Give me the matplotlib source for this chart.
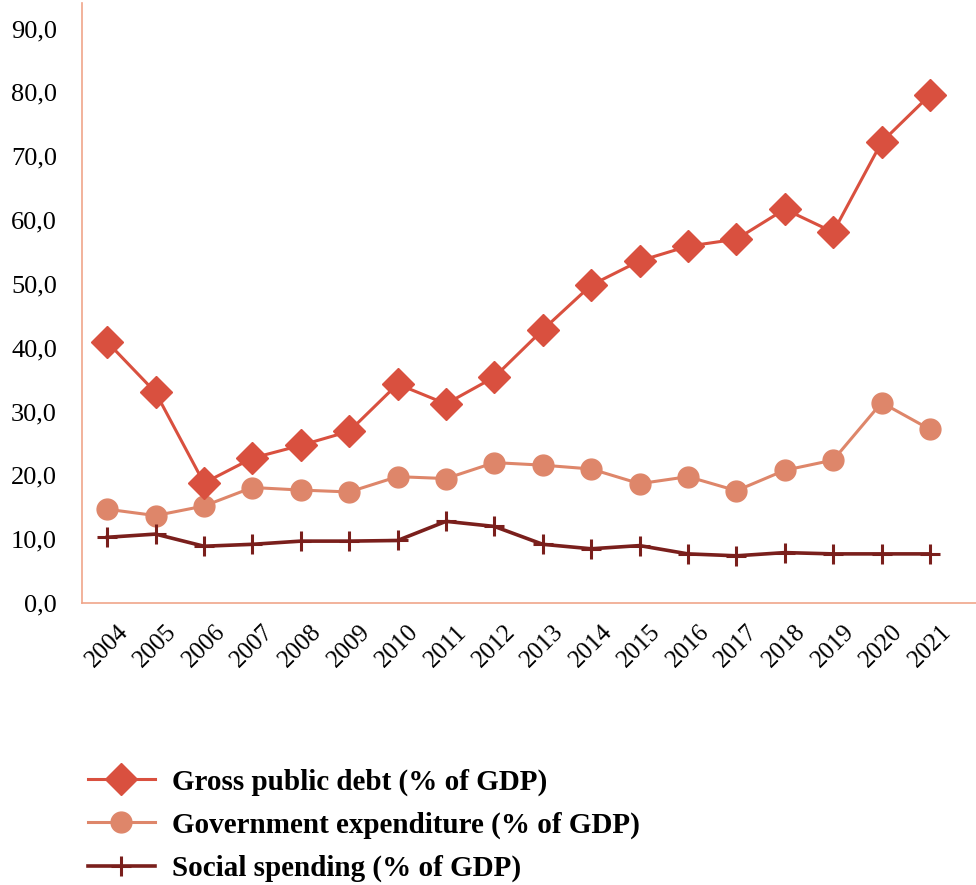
import matplotlib.pyplot as plt
from matplotlib.lines import Line2D

years = [str(y) for y in range(2004, 2022)]
gross_debt = [40.9, 33.0, 18.8, 22.7, 24.7, 26.9, 34.3, 31.2, 35.4, 42.8,
              49.8, 53.6, 55.9, 57.0, 61.7, 58.1, 72.2, 79.6]
gov_exp = [14.7, 13.7, 15.2, 18.1, 17.7, 17.4, 19.8, 19.5, 22.0, 21.6,
           21.0, 18.7, 19.8, 17.6, 20.8, 22.4, 31.4, 27.2]
social = [10.3, 10.8, 8.9, 9.2, 9.7, 9.7, 9.8, 12.8, 12.0, 9.2,
          8.5, 9.0, 7.7, 7.4, 7.9, 7.7, 7.7, 7.7]
yticks = [0, 10, 20, 30, 40, 50, 60, 70, 80, 90]
ylabels = ['0,0', '10,0', '20,0', '30,0', '40,0', '50,0', '60,0', '70,0', '80,0', '90,0']
labels = ['Gross public debt (% of GDP)', 'Government expenditure (% of GDP)',
          'Social spending (% of GDP)']

c_debt = '#D9503F'
c_exp = '#DE866A'
c_soc = '#7A1F1C'
c_spine = '#F0A58A'

plt.rcParams['font.family'] = 'Liberation Serif'

fig = plt.figure(figsize=(9.76, 8.85), dpi=100)
ax = fig.add_axes([0.084, 0.3186, 0.916, 0.678])

x = list(range(len(years)))
ax.plot(x, gross_debt, color=c_debt, lw=2.2, marker='D', ms=16, zorder=3)
ax.plot(x, gov_exp, color=c_exp, lw=2.2, marker='o', ms=15, zorder=2)
ax.plot(x, social, color=c_soc, lw=2.6, marker='+', ms=14, mew=2.2, zorder=2)

ax.set_xlim(-0.52, 17.95)
ax.set_ylim(0, 94)
ax.set_yticks(yticks)
ax.set_yticklabels(ylabels, fontsize=19)
ax.set_xticks(x)
ax.set_xticklabels(years, rotation=45, ha='center', fontsize=18)
ax.tick_params(axis='both', length=0)
ax.tick_params(axis='y', pad=18)
ax.tick_params(axis='x', pad=13)

for s in ['top', 'right']:
    ax.spines[s].set_visible(False)
for s in ['left', 'bottom']:
    ax.spines[s].set_color(c_spine)
    ax.spines[s].set_linewidth(1.2)

handles = [
    Line2D([], [], color=c_debt, lw=2.2, marker='D', ms=16),
    Line2D([], [], color=c_exp, lw=2.2, marker='o', ms=15),
    Line2D([], [], color=c_soc, lw=2.6, marker='+', ms=14, mew=2.2),
]
fig.legend(handles, labels, loc='lower left', bbox_to_anchor=(0.09, 0.003),
           frameon=False, borderpad=0, borderaxespad=0,
           handlelength=2.3, handletextpad=0.6, labelspacing=0.55,
           prop={'family': 'Liberation Serif', 'weight': 'bold', 'size': 21})

fig.savefig('out.png', dpi=100)
